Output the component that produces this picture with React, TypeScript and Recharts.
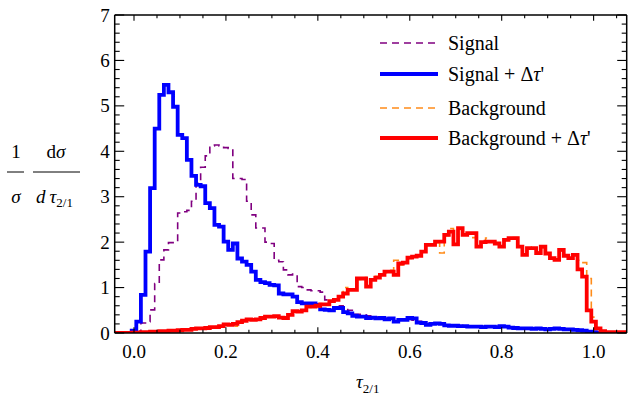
import { LineChart, Line, XAxis, YAxis, Legend } from "recharts";

const FONT = "'Times New Roman', Times, 'Liberation Serif', 'DejaVu Serif', 'Noto Serif', serif";
const W = 628;
const H = 396;
const PLOT_LEFT = 114.7;
const PLOT_RIGHT = 626.7;
const PLOT_TOP = 15;
const PLOT_BOTTOM = 333;

// histogram bins of width 0.01, first bin centred at -0.04
const BIN_WIDTH = 0.01;
const FIRST_EDGE = -0.045;

// Signal (dashed purple)
const signal = [
  0, 0, 0, 0,
  0.0, 0.03, 0.22, 0.25, 0.51, 1.09, 1.61, 1.83, 1.99, 1.99,
  2.64, 2.67, 2.70, 2.90, 3.30, 3.65, 3.90, 4.12, 4.14, 4.12,
  4.08, 4.06, 3.40, 3.40, 3.38, 2.90, 2.60, 2.31, 2.31, 2.00,
  1.97, 1.60, 1.57, 1.39, 1.28, 1.30, 1.02, 1.00, 0.95, 0.93,
  0.93, 0.90, 0.73, 0.73, 0.72, 0.60, 0.57, 0.50, 0.41, 0.41,
  0.40, 0.38, 0.36, 0.35, 0.33, 0.33, 0.32, 0.30, 0.30, 0.31,
  0.30, 0.28, 0.26, 0.24, 0.22, 0.22, 0.21, 0.20, 0.19, 0.18,
  0.17, 0.17, 0.16, 0.16, 0.15, 0.15, 0.14, 0.15, 0.14, 0.13,
  0.14, 0.13, 0.12, 0.12, 0.11, 0.11, 0.10, 0.10, 0.10, 0.09,
  0.09, 0.09, 0.09, 0.08, 0.08, 0.07, 0.07, 0.06, 0.05, 0.03,
  0.02, 0.01, 0, 0, 0, 0, 0, 0,
];

// Signal + delta tau' (solid blue)
const signalDt = [
  0, 0, 0, 0,
  0.05, 0.25, 0.84, 1.79, 3.19, 4.50, 5.24, 5.46, 5.30, 4.98,
  4.36, 4.29, 3.81, 3.46, 3.26, 3.23, 2.86, 2.75, 2.38, 2.34,
  2.01, 1.83, 1.97, 1.64, 1.57, 1.50, 1.35, 1.17, 1.12, 1.10,
  1.06, 1.05, 0.87, 0.85, 0.85, 0.80, 0.68, 0.65, 0.65, 0.65,
  0.62, 0.52, 0.51, 0.50, 0.55, 0.55, 0.46, 0.43, 0.38, 0.36,
  0.36, 0.33, 0.34, 0.32, 0.33, 0.30, 0.32, 0.25, 0.29, 0.29,
  0.33, 0.32, 0.23, 0.22, 0.18, 0.20, 0.21, 0.20, 0.17, 0.16,
  0.16, 0.15, 0.15, 0.14, 0.14, 0.14, 0.13, 0.14, 0.14, 0.13,
  0.15, 0.14, 0.12, 0.11, 0.10, 0.10, 0.10, 0.09, 0.10, 0.09,
  0.08, 0.09, 0.10, 0.09, 0.08, 0.08, 0.07, 0.06, 0.05, 0.03,
  0.02, 0.01, 0.01, 0, 0, 0, 0, 0,
];

// Background (dashed orange)
const background = [
  0, 0, 0, 0,
  0.01, 0.01, 0.02, 0.02, 0.03, 0.03, 0.04, 0.05, 0.05, 0.05,
  0.06, 0.07, 0.08, 0.08, 0.10, 0.10, 0.12, 0.12, 0.14, 0.15,
  0.17, 0.19, 0.15, 0.23, 0.26, 0.30, 0.30, 0.31, 0.32, 0.35,
  0.37, 0.36, 0.35, 0.34, 0.41, 0.46, 0.50, 0.50, 0.56, 0.60,
  0.58, 0.65, 0.62, 0.72, 0.72, 0.82, 1.00, 0.93, 0.97, 1.18,
  1.22, 1.05, 1.15, 1.25, 1.30, 1.33, 1.38, 1.60, 1.50, 1.55,
  1.64, 1.70, 1.72, 1.80, 1.95, 1.96, 1.99, 1.76, 2.14, 2.30,
  1.97, 2.28, 2.18, 2.19, 2.10, 1.92, 2.02, 2.09, 2.00, 1.96,
  1.92, 2.04, 2.07, 2.10, 1.91, 1.74, 1.85, 1.89, 1.78, 1.88,
  1.74, 1.66, 1.63, 1.81, 1.72, 1.63, 1.74, 1.60, 1.55, 1.20,
  0.35, 0.10, 0.03, 0.02, 0.02, 0.02, 0.02, 0.02,
];

// Background + delta tau' (solid red)
const backgroundDt = [
  0, 0, 0, 0,
  0.01, 0.01, 0.02, 0.02, 0.03, 0.03, 0.04, 0.04, 0.05, 0.05,
  0.06, 0.07, 0.07, 0.09, 0.10, 0.10, 0.11, 0.13, 0.13, 0.15,
  0.19, 0.18, 0.20, 0.24, 0.27, 0.30, 0.29, 0.30, 0.33, 0.36,
  0.36, 0.37, 0.34, 0.33, 0.40, 0.48, 0.47, 0.50, 0.58, 0.58,
  0.60, 0.63, 0.63, 0.70, 0.73, 0.80, 0.87, 0.95, 0.95, 1.20,
  1.20, 1.02, 1.17, 1.22, 1.28, 1.35, 1.35, 1.28, 1.53, 1.55,
  1.66, 1.68, 1.70, 1.79, 1.94, 1.94, 2.01, 2.01, 2.16, 2.23,
  1.95, 2.31, 2.16, 2.20, 2.20, 1.90, 2.00, 2.01, 2.01, 1.97,
  1.90, 2.05, 2.09, 2.09, 1.90, 1.72, 1.87, 1.87, 1.76, 1.90,
  1.75, 1.65, 1.61, 1.83, 1.70, 1.65, 1.72, 1.40, 1.24, 0.50,
  0.25, 0.10, 0.04, 0.02, 0.02, 0.02, 0.02, 0.02,
];

const X_TICKS = [
  0, 0.05, 0.1, 0.15, 0.2, 0.25, 0.3, 0.35, 0.4, 0.45, 0.5,
  0.55, 0.6, 0.65, 0.7, 0.75, 0.8, 0.85, 0.9, 0.95, 1.0, 1.05,
];
const X_LABELS = [0, 0.2, 0.4, 0.6, 0.8, 1.0];
const Y_TICKS = [
  0, 0.2, 0.4, 0.6, 0.8, 1, 1.2, 1.4, 1.6, 1.8, 2, 2.2, 2.4, 2.6, 2.8,
  3, 3.2, 3.4, 3.6, 3.8, 4, 4.2, 4.4, 4.6, 4.8, 5, 5.2, 5.4, 5.6, 5.8,
  6, 6.2, 6.4, 6.6, 6.8, 7,
];
const Y_LABELS = [0, 1, 2, 3, 4, 5, 6, 7];

const SERIES = [
  { key: "signal", color: "#800080", width: 1.6, dash: "7 5" },
  { key: "signalDt", color: "#0000ff", width: 3.8, dash: undefined },
  { key: "background", color: "#ff8c1a", width: 1.6, dash: "7 5" },
  { key: "backgroundDt", color: "#ff0000", width: 3.8, dash: undefined },
];

// step-after table: one point per bin edge, last edge repeats last bin
const data = signal.map((_, i) => ({
  x: +(FIRST_EDGE + i * BIN_WIDTH).toFixed(4),
  signal: signal[i],
  signalDt: signalDt[i],
  background: background[i],
  backgroundDt: backgroundDt[i],
}));
const last = signal.length - 1;
data.push({
  x: +(FIRST_EDGE + signal.length * BIN_WIDTH).toFixed(4),
  signal: signal[last],
  signalDt: signalDt[last],
  background: background[last],
  backgroundDt: backgroundDt[last],
});

const isMajor = (v: number, majors: number[]) =>
  majors.some((m) => Math.abs(m - v) < 1e-6);

const textStyle = { fontFamily: FONT, fontSize: 19, fill: "#000" };

function BottomTick(props: any) {
  const { x, payload } = props;
  const major = isMajor(payload.value, X_LABELS);
  return (
    <g>
      <line x1={x} x2={x} y1={PLOT_BOTTOM} y2={PLOT_BOTTOM - (major ? 5.7 : 3.3)} stroke="#000" strokeWidth={1.1} />
      {major && (
        <text x={x} y={358} textAnchor="middle" {...textStyle}>
          {payload.value.toFixed(1)}
        </text>
      )}
    </g>
  );
}

function TopTick(props: any) {
  const { x, payload } = props;
  const major = isMajor(payload.value, X_LABELS);
  return <line x1={x} x2={x} y1={PLOT_TOP} y2={PLOT_TOP + (major ? 5.7 : 3.3)} stroke="#000" strokeWidth={1.1} />;
}

function LeftTick(props: any) {
  const { y, payload } = props;
  const major = isMajor(payload.value, Y_LABELS);
  return (
    <g>
      <line x1={PLOT_LEFT} x2={PLOT_LEFT + (major ? 9.5 : 5)} y1={y} y2={y} stroke="#000" strokeWidth={1.1} />
      {major && (
        <text x={PLOT_LEFT - 5} y={y + 6.5} textAnchor="end" {...textStyle}>
          {payload.value}
        </text>
      )}
    </g>
  );
}

function RightTick(props: any) {
  const { y, payload } = props;
  const major = isMajor(payload.value, Y_LABELS);
  return <line x1={PLOT_RIGHT} x2={PLOT_RIGHT - (major ? 9.5 : 5)} y1={y} y2={y} stroke="#000" strokeWidth={1.1} />;
}

function YLabel() {
  return (
    <g>
      <text x={16} y={158} textAnchor="middle" {...textStyle}>1</text>
      <line x1={7} x2={24} y1={172} y2={172} stroke="#000" strokeWidth={1} />
      <text x={16} y={203} textAnchor="middle" fontStyle="italic" {...textStyle}>σ</text>
      <text x={56} y={158} textAnchor="middle" {...textStyle}>
        d<tspan fontStyle="italic">σ</tspan>
      </text>
      <line x1={33} x2={80} y1={172} y2={172} stroke="#000" strokeWidth={1} />
      <text x={36} y={203} {...textStyle}>
        <tspan fontStyle="italic">d</tspan>
        <tspan fontStyle="italic" dx={4}>τ</tspan>
        <tspan fontSize={13} dy={4}>2/1</tspan>
      </text>
    </g>
  );
}

function XLabel() {
  return (
    <text x={356} y={388} {...textStyle}>
      <tspan fontStyle="italic">τ</tspan>
      <tspan fontSize={13} dy={5}>2/1</tspan>
    </text>
  );
}

const LEGEND_ROWS = [
  { key: "signal", top: 17, label: <>Signal</> },
  { key: "signalDt", top: 47.5, label: <>Signal + Δ<i>τ</i>'</> },
  { key: "background", top: 82, label: <>Background</> },
  { key: "backgroundDt", top: 112, label: <>Background + Δ<i>τ</i>'</> },
];

function LegendBox() {
  return (
    <div style={{ position: "relative", width: 250, height: 130, fontFamily: FONT, fontSize: 20, color: "#000" }}>
      {LEGEND_ROWS.map((row) => {
        const s = SERIES.find((c) => c.key === row.key)!;
        return (
          <div
            key={row.key}
            style={{ position: "absolute", left: 0, top: row.top - 12, height: 24, display: "flex", alignItems: "center", whiteSpace: "nowrap" }}
          >
            <svg width={60} height={24}>
              <line x1={2} x2={60} y1={12} y2={12} stroke={s.color} strokeWidth={s.width} strokeDasharray={s.dash} />
            </svg>
            <span style={{ marginLeft: 10, lineHeight: "24px", fontFamily: FONT }}>{row.label}</span>
          </div>
        );
      })}
    </div>
  );
}

export default function App() {
  return (
    <div style={{ position: "absolute", left: 0, top: 0, width: W, height: H, background: "#fff", fontFamily: FONT }}>
      <LineChart
        width={W}
        height={H}
        data={data}
        margin={{ top: PLOT_TOP - 1, right: W - PLOT_RIGHT - 1, bottom: H - PLOT_BOTTOM - 1, left: PLOT_LEFT - 1 }}
      >
        <XAxis
          xAxisId="bottom"
          type="number"
          dataKey="x"
          domain={[-0.042, 1.072]}
          allowDataOverflow
          ticks={X_TICKS}
          interval={0}
          height={1}
          tickLine={false}
          tick={BottomTick}
          axisLine={{ stroke: "#000", strokeWidth: 1.5 }}
          label={{ content: XLabel }}
        />
        <XAxis
          xAxisId="top"
          orientation="top"
          type="number"
          dataKey="x"
          domain={[-0.042, 1.072]}
          allowDataOverflow
          ticks={X_TICKS}
          interval={0}
          height={1}
          tickLine={false}
          tick={TopTick}
          axisLine={{ stroke: "#000", strokeWidth: 1.5 }}
        />
        <YAxis
          yAxisId="left"
          type="number"
          domain={[0, 7]}
          allowDataOverflow
          ticks={Y_TICKS}
          interval={0}
          width={1}
          tickLine={false}
          tick={LeftTick}
          axisLine={{ stroke: "#000", strokeWidth: 1.5 }}
          label={{ content: YLabel }}
        />
        <YAxis
          yAxisId="right"
          orientation="right"
          type="number"
          domain={[0, 7]}
          allowDataOverflow
          ticks={Y_TICKS}
          interval={0}
          width={1}
          tickLine={false}
          tick={RightTick}
          axisLine={{ stroke: "#000", strokeWidth: 1.5 }}
        />
        <Legend
          layout="vertical"
          align="center"
          verticalAlign="middle"
          wrapperStyle={{ left: 378, top: 26, width: 250, height: 130 }}
          content={() => <LegendBox />}
        />
        {SERIES.map((s) => (
          <Line
            key={s.key}
            xAxisId="bottom"
            yAxisId="left"
            type="stepAfter"
            dataKey={s.key}
            stroke={s.color}
            strokeWidth={s.width}
            strokeDasharray={s.dash}
            dot={false}
            activeDot={false}
            isAnimationActive={false}
          />
        ))}
      </LineChart>
    </div>
  );
}
